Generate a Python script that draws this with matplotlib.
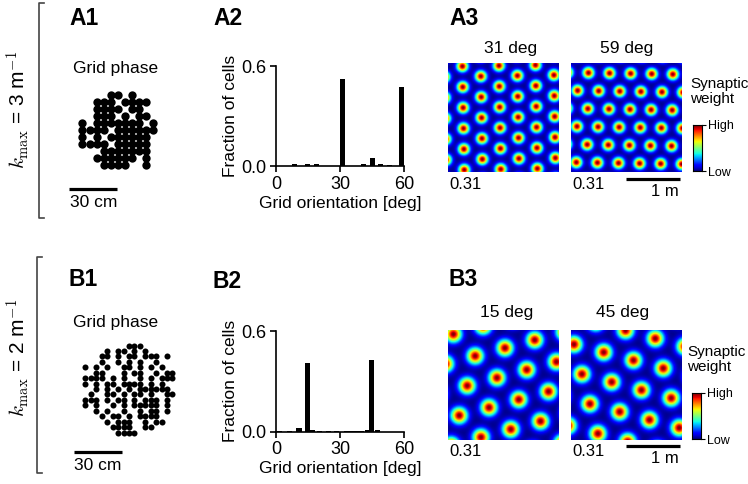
import numpy as np
import matplotlib.pyplot as plt
from matplotlib.lines import Line2D

plt.rcParams['font.family'] = ['Liberation Sans', 'DejaVu Sans']
plt.rcParams['mathtext.fontset'] = 'cm'

W, H = 748, 484

# histogram of grid orientation (A2, B2)
a2_deg = [8.8, 14.9, 18.8, 31.0, 41.0, 45.1, 49.0, 53.1, 59.0]
a2_frac = [0.01, 0.01, 0.01, 0.52, 0.01, 0.05, 0.01, 0.005, 0.475]
b2_deg = [1.5, 6.5, 10.8, 14.7, 17.2, 20.5, 24.5, 28.5, 33.0, 35.4, 37.8, 40.2, 42.9, 44.9, 47.4]
b2_frac = [0.003, 0.003, 0.02, 0.41, 0.01, 0.003, 0.003, 0.003,
           0.005, 0.005, 0.005, 0.005, 0.012, 0.43, 0.01]

# grid phases (A1, B1), '#' = one cell on the phase lattice
a1_phase = [
    "....##.#...",
    "..###.####.",
    "..####.##..",
    "..###.#.##.",
    "#.#######.#",
    "####.######",
    "#.#.######.",
    "####.#####.",
    "...#######.",
    "..######.#.",
    "...####..#.",
]
b1_phase = [
    "........###......",
    "....#.##.#.#.....",
    "...##.#.##.###.#.",
    "...#..#.#.#..#...",
    "#.#.#..##.#.#.#..",
    "..##...#.##..#.##",
    "####.#.#..#.#.###",
    "#.#.##.####.#.#..",
    "..#.#.#.#.######.",
    ".#..##.#.##.#..##",
    "###.#.##.#.###.#.",
    "#.#..#.#.#####.#.",
    "..#.#..#..#.##.#.",
    "...#.##.#.####...",
    "....#.###..#.##..",
    ".....####..##....",
    "......####.......",
]
a1_step = 4.4   # cm between phase lattice points
b1_step = 3.4

# synaptic weight grids (A3, B3)
arena = 2.0  # m
a3_orient = [31, 59]
b3_orient = [15, 45]
a3_spacing = 0.38
b3_spacing = 0.555
a3_sigma = 0.07
b3_sigma = 0.1
a3_origin = [(0.26, 1.94), (0.315, 1.82)]
b3_origin = [(0.49, 1.515), (0.59, 1.58)]
score_a = ['0.31', '0.31']
score_b = ['0.31', '0.31']


def grid_field(orient, spacing, origin, sigma, n=110):
    xs = (np.arange(n) + 0.5) / n * arena
    X, Y = np.meshgrid(xs, xs)
    th = np.deg2rad(orient)
    u = spacing * np.array([np.cos(th), np.sin(th)])
    v = spacing * np.array([np.cos(th + np.pi / 3), np.sin(th + np.pi / 3)])
    Z = np.zeros_like(X)
    for i in range(-14, 15):
        for j in range(-14, 15):
            cx = origin[0] + i * u[0] + j * v[0]
            cy = origin[1] + i * u[1] + j * v[1]
            Z += np.exp(-((X - cx) ** 2 + (Y - cy) ** 2) / (2 * sigma ** 2))
    return Z


fig = plt.figure(figsize=(W / 100, H / 100), dpi=100)


def px_axes(x0, y0, x1, y1):
    return fig.add_axes([x0 / W, 1 - y1 / H, (x1 - x0) / W, (y1 - y0) / H])


def ftext(x, y, s, **kw):
    kw.setdefault('ha', 'center')
    kw.setdefault('va', 'center')
    fig.text(x / W, 1 - y / H, s, **kw)


def fline(xs, ys, **kw):
    fig.add_artist(Line2D([x / W for x in xs], [1 - y / H for y in ys],
                          transform=fig.transFigure, **kw))


# row brackets and kmax labels
for top, bot, xb, yc, k in [(3, 218, 39, 110, 3), (257, 473, 37, 358, 2)]:
    fline([xb + 5, xb, xb, xb + 5], [top, top, bot, bot], color='#444444', lw=1.2)
    ftext(18, yc, r'$k_\mathrm{max}$ = %d m$^{\mathsf{-1}}$' % k, rotation=90, fontsize=15)

# panel labels
for lab, x, y in [('A1', 69, 18.5), ('A2', 213, 18.5), ('A3', 449, 18.5),
                  ('B1', 69, 280), ('B2', 213, 281), ('B3', 449, 280)]:
    ftext(x, y, lab, ha='left', fontsize=16.5, fontweight='bold')


# grid phase scatter
def phase_panel(box, pattern, step, first, bar_y, lab_xy, title_y, ms):
    ax = px_axes(*box)
    sc = 1.6  # px per cm
    xs, ys = [], []
    for r, row in enumerate(pattern):
        for c, ch in enumerate(row):
            if ch == '#':
                xs.append(first[0] + c * step)
                ys.append(first[1] + r * step)
    ax.scatter(xs, ys, s=ms, c='k', linewidths=0)
    ax.set_xlim(0, (box[2] - box[0]) / sc)
    ax.set_ylim((box[3] - box[1]) / sc, 0)
    ax.axis('off')
    x0 = bar_y[0]
    ax.plot([x0, x0 + 30], [bar_y[1], bar_y[1]], color='k', lw=2.3,
            solid_capstyle='butt', clip_on=False)
    ftext(lab_xy[0], lab_xy[1], '30 cm', fontsize=12.5)
    ftext(115.5, title_y, 'Grid phase', fontsize=12.5)


phase_panel((60, 80, 180, 215), a1_phase, a1_step, (14.06, 9.4),
            (5.6, 68.1), (93.5, 202.5), 69, 36)
phase_panel((60, 330, 190, 480), b1_phase, b1_step, (15.9, 9.7),
            (8.75, 76.25), (98, 466), 323, 19)


# orientation histograms
def hist_panel(box, deg, frac):
    ax = px_axes(*box)
    ax.bar(deg, frac, width=2.4, color='k', clip_on=False)
    ax.set_xlim(0, 60)
    ax.set_ylim(0, 0.6)
    ax.set_xticks([0, 30, 60])
    ax.set_yticks([0, 0.6])
    ax.set_yticklabels(['0.0', '0.6'])
    for s in ['top', 'right']:
        ax.spines[s].set_visible(False)
    for s in ['left', 'bottom']:
        ax.spines[s].set_linewidth(1.2)
    ax.tick_params(direction='out', length=4, width=1.2, labelsize=13, pad=3)
    ax.set_xlabel('Grid orientation [deg]', fontsize=12.5, labelpad=2)
    ax.set_ylabel('Fraction of cells', fontsize=12.5, labelpad=2)


hist_panel((276, 66, 404, 166), a2_deg, a2_frac)
hist_panel((276, 331, 404, 431.7), b2_deg, b2_frac)


# synaptic weight maps
def weight_row(y0, y1, orient, spacing, origin, sigma, scores, title_x,
               title_y, score_y, bar_y, m_y, syn_x, syn_y, cb_box, hl):
    for k, x0 in enumerate([448, 571]):
        ax = px_axes(x0, y0, x0 + 110, y1)
        Z = grid_field(orient[k], spacing, origin[k], sigma)
        ax.imshow(Z, cmap='jet', origin='lower', extent=[0, arena, 0, arena],
                  interpolation='bilinear', vmin=0, vmax=Z.max(), aspect='auto')
        ax.set_xticks([])
        ax.set_yticks([])
        for s in ax.spines.values():
            s.set_visible(False)
        ftext(title_x[k], title_y, '%d deg' % orient[k], fontsize=12.5)
        ftext(x0 + 1, score_y, scores[k], ha='left', fontsize=12)
    fline([626, 680], [bar_y, bar_y], color='k', lw=2.3, solid_capstyle='butt')
    ftext(679, m_y, '1 m', ha='right', fontsize=12)
    ftext(syn_x, syn_y, 'Synaptic', ha='left', fontsize=11)
    ftext(syn_x, syn_y + 15, 'weight', ha='left', fontsize=11)
    cax = px_axes(*cb_box)
    cax.imshow(np.linspace(0, 1, 100)[:, None], cmap='jet', origin='lower',
               extent=[0, 1, 0, 1], aspect='auto')
    cax.set_xticks([])
    cax.yaxis.tick_right()
    cax.set_yticks([0, 1])
    cax.set_yticklabels(['Low', 'High'])
    cax.tick_params(length=3, width=0.8, pad=1, labelsize=hl)
    for s in cax.spines.values():
        s.set_linewidth(0.8)


weight_row(63, 172, a3_orient, a3_spacing, a3_origin, a3_sigma, score_a,
           [511, 626.5], 49, 184, 179.3, 192, 690, 84, (693, 125, 702, 171), 9)
weight_row(330, 440, b3_orient, b3_spacing, b3_origin, b3_sigma, score_b,
           [507, 623], 313, 451, 445.7, 458.5, 687, 352, (692, 393, 701, 439), 9)

fig.savefig('out.png', dpi=100)
